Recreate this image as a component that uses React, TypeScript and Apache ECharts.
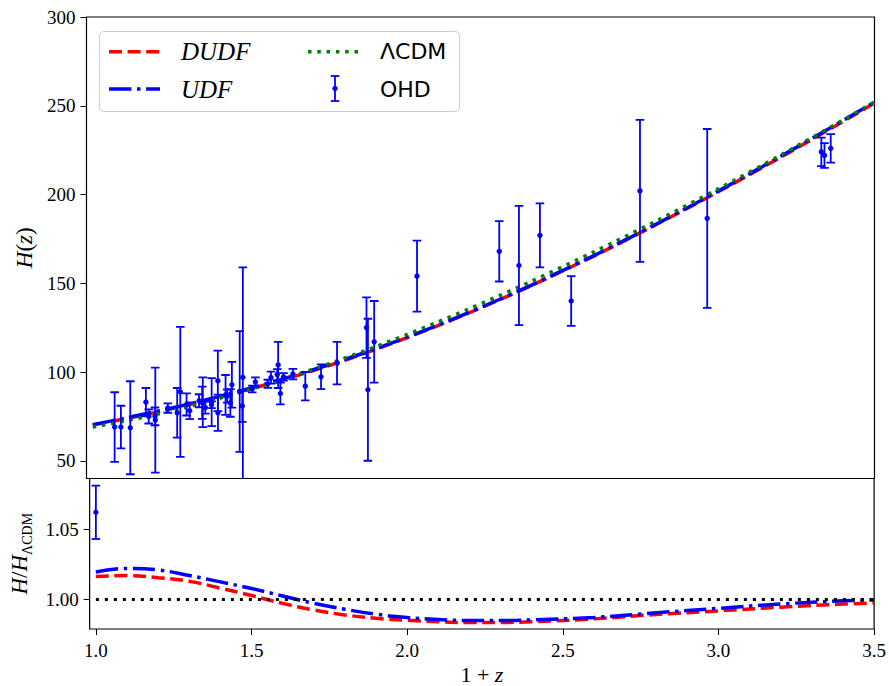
import React, { useEffect, useRef } from 'react';
import * as echarts from 'echarts';

// 1+z grid for model curves
const zGrid = [1.0, 1.1, 1.2, 1.3, 1.4, 1.5, 1.6, 1.7, 1.8, 1.9, 2.0, 2.1, 2.2, 2.3, 2.4, 2.6, 2.8, 3.0, 3.2, 3.4, 3.5];
const hLCDM = [69.0, 72.29, 76.05, 80.26, 84.92, 89.98, 95.44, 101.28, 107.46, 113.97, 120.8, 127.92, 135.32, 142.99, 150.9, 167.46, 184.9, 203.17, 222.21, 241.99, 252.14];
const hDUDF = [70.12, 73.52, 77.23, 81.3, 85.6, 90.23, 95.17, 100.52, 106.28, 112.44, 119.01, 125.9, 133.1, 140.64, 148.52, 165.15, 182.92, 201.52, 220.99, 241.19, 251.51];
const hUDF = [70.35, 73.88, 77.65, 81.62, 85.98, 90.68, 95.68, 101.0, 106.71, 112.77, 119.25, 126.1, 133.29, 140.85, 148.71, 165.32, 183.14, 201.89, 221.5, 241.75, 252.04];
const ratioDUDF = [1.0163, 1.017, 1.0155, 1.013, 1.008, 1.0028, 0.9972, 0.9925, 0.989, 0.9866, 0.9852, 0.9842, 0.9836, 0.9836, 0.9842, 0.9862, 0.9893, 0.9919, 0.9945, 0.9967, 0.9975];
const ratioUDF = [1.0195, 1.0221, 1.021, 1.017, 1.0125, 1.0078, 1.0025, 0.9972, 0.993, 0.9895, 0.9872, 0.9858, 0.985, 0.985, 0.9855, 0.9872, 0.9905, 0.9937, 0.9968, 0.999, 0.9996];
const refX = [1.0, 3.5];
const refY = [1.0, 1.0];

// Observational Hubble data (1+z, H, sigma)
const ohdZ1 = [1.07, 1.09, 1.12, 1.17, 1.179, 1.199, 1.2, 1.24, 1.27, 1.28, 1.3, 1.31, 1.34, 1.35, 1.3519, 1.36, 1.38, 1.3802, 1.4, 1.4004, 1.4247, 1.43, 1.44, 1.44497, 1.47, 1.4783, 1.48, 1.51, 1.52, 1.56, 1.57, 1.59, 1.5929, 1.6, 1.61, 1.64, 1.6797, 1.73, 1.7812, 1.8754, 1.88, 1.9, 2.037, 2.3, 2.363, 2.43, 2.53, 2.75, 2.965, 3.33, 3.34, 3.36];
const ohdH = [69, 69, 68.6, 83, 75, 75, 72.9, 79.69, 77, 88.8, 81.7, 78.18, 83.8, 82.7, 83, 79.94, 81.5, 83, 95, 77, 87.1, 86.45, 82.6, 92.8, 89, 80.9, 97, 90.4, 94.35, 93.34, 96.8, 98.48, 104, 87.9, 97.3, 98.82, 92, 97.3, 105, 125, 90, 117, 154, 168, 160, 177, 140, 202, 186.5, 224, 222, 226];
const ohdErr = [19.6, 12, 26.2, 8, 4, 5, 29.6, 2.65, 14, 36.6, 6.22, 4.74, 3.66, 9.1, 14, 3.38, 1.9, 13.5, 17, 10.2, 11.2, 3.68, 7.8, 12.9, 34, 9, 62, 1.9, 2.64, 2.3, 3.4, 3.18, 13, 6.1, 2.1, 2.98, 8, 7, 12, 17, 40, 23, 20, 17, 33.6, 18, 14, 40, 50.4, 8, 7, 8];
// H0 point relative to LCDM
const h0X = [1.0];
const h0Ratio = [1.062];
const h0RatioErr = [0.019];

const topYTicks = [50, 100, 150, 200, 250, 300];
const bottomYTicks = [1.0, 1.05];
const xTicks = [1.0, 1.5, 2.0, 2.5, 3.0, 3.5];

const SERIF = 'Liberation Serif';
const SANS = 'DejaVu Sans';
const BLUE = '#0000ff';
const RED = '#ff0000';
const GREEN = '#008000';

const pairs = (xs: number[], ys: number[]) => xs.map((x, i) => [x, ys[i]]);

const errorRender = (_params: any, api: any) => {
  const x = api.value(0);
  const y = api.value(1);
  const e = api.value(2);
  const pT = api.coord([x, y + e]);
  const pB = api.coord([x, y - e]);
  const pC = api.coord([x, y]);
  const cw = 4.3;
  const st = { stroke: BLUE, lineWidth: 1.8 };
  return {
    type: 'group',
    children: [
      { type: 'line', shape: { x1: pT[0], y1: pT[1], x2: pB[0], y2: pB[1] }, style: st },
      { type: 'line', shape: { x1: pT[0] - cw, y1: pT[1], x2: pT[0] + cw, y2: pT[1] }, style: st },
      { type: 'line', shape: { x1: pB[0] - cw, y1: pB[1], x2: pB[0] + cw, y2: pB[1] }, style: st },
      { type: 'circle', shape: { cx: pC[0], cy: pC[1], r: 2.7 }, style: { fill: BLUE } },
    ],
  };
};

export default function App() {
  const ref = useRef<HTMLDivElement>(null);
  useEffect(() => {
    document.body.style.margin = '0';
    const chart = echarts.init(ref.current as HTMLDivElement, null, { renderer: 'svg' });
    const tickLabel = { fontFamily: SERIF, fontSize: 19, color: '#000' };
    const option: any = {
      animation: false,
      backgroundColor: '#fff',
      grid: [
        { left: 86.5, right: 14.5, top: 17, height: 461.5, show: true, borderColor: '#000', borderWidth: 1.2, backgroundColor: 'transparent' },
        { left: 86.5, right: 14.5, top: 478.5, height: 153, show: true, borderColor: '#000', borderWidth: 1.2, backgroundColor: 'transparent' },
      ],
      xAxis: [
        {
          type: 'value', gridIndex: 0, min: 0.98, max: 3.5,
          axisLine: { show: false }, axisTick: { show: false }, axisLabel: { show: false }, splitLine: { show: false },
        },
        {
          type: 'value', gridIndex: 1, min: 0.98, max: 3.5,
          axisLine: { show: false },
          axisTick: { show: true, customValues: xTicks, length: 6, inside: false, lineStyle: { color: '#000', width: 1 } },
          axisLabel: { show: true, customValues: xTicks, margin: 12, formatter: (v: number) => v.toFixed(1), ...tickLabel },
          splitLine: { show: false },
          name: '{r|1 + }{i|z}', nameLocation: 'middle', nameGap: 34,
          nameTextStyle: {
            rich: {
              r: { fontFamily: SERIF, fontSize: 22, color: '#000' },
              i: { fontFamily: SERIF, fontSize: 22, fontStyle: 'italic', color: '#000' },
            },
          },
        },
      ],
      yAxis: [
        {
          type: 'value', gridIndex: 0, min: 40, max: 300,
          axisLine: { show: false },
          axisTick: { show: true, customValues: topYTicks, length: 6, inside: false, lineStyle: { color: '#000', width: 1 } },
          axisLabel: { show: true, customValues: topYTicks, margin: 11, formatter: (v: number) => String(v), ...tickLabel },
          splitLine: { show: false },
          name: '{i|H}{r|(}{i|z}{r|)}', nameLocation: 'middle', nameGap: 46, nameRotate: 90,
          nameTextStyle: {
            rich: {
              r: { fontFamily: SERIF, fontSize: 23, color: '#000' },
              i: { fontFamily: SERIF, fontSize: 23, fontStyle: 'italic', color: '#000' },
            },
          },
        },
        {
          type: 'value', gridIndex: 1, min: 0.979, max: 1.086,
          axisLine: { show: false },
          axisTick: { show: true, customValues: bottomYTicks, length: 6, inside: false, lineStyle: { color: '#000', width: 1 } },
          axisLabel: { show: true, customValues: bottomYTicks, margin: 11, formatter: (v: number) => v.toFixed(2), ...tickLabel },
          splitLine: { show: false },
          name: '{i|H}{r|/}{i|H}{s|ΛCDM}', nameLocation: 'middle', nameGap: 53, nameRotate: 90,
          nameTextStyle: {
            rich: {
              r: { fontFamily: SERIF, fontSize: 23, color: '#000', lineHeight: 30, verticalAlign: 'middle' },
              i: { fontFamily: SERIF, fontSize: 23, fontStyle: 'italic', color: '#000', lineHeight: 30, verticalAlign: 'middle' },
              s: { fontFamily: SERIF, fontSize: 14, color: '#000', lineHeight: 14, verticalAlign: 'bottom' },
            },
          },
        },
      ],
      series: [
        {
          name: 'DUDF', type: 'line', xAxisIndex: 0, yAxisIndex: 0, data: pairs(zGrid, hDUDF),
          showSymbol: false, smooth: 0.3, lineStyle: { color: RED, width: 3.5, type: [13, 5.6] }, z: 2,
        },
        {
          name: 'UDF', type: 'line', xAxisIndex: 0, yAxisIndex: 0, data: pairs(zGrid, hUDF),
          showSymbol: false, smooth: 0.3, lineStyle: { color: BLUE, width: 3.5, type: [22.4, 5.6, 3.5, 5.6] }, z: 3,
        },
        {
          name: 'ΛCDM', type: 'line', xAxisIndex: 0, yAxisIndex: 0, data: pairs(zGrid, hLCDM),
          showSymbol: false, smooth: 0.3, lineStyle: { color: GREEN, width: 3.5, type: [3.5, 5.8] }, z: 4,
        },
        {
          name: 'OHD', type: 'custom', xAxisIndex: 0, yAxisIndex: 0, clip: true,
          data: ohdZ1.map((x, i) => [x, ohdH[i], ohdErr[i]]),
          encode: { x: 0, y: 1 }, renderItem: errorRender, z: 5,
        },
        {
          name: 'DUDF ratio', type: 'line', xAxisIndex: 1, yAxisIndex: 1, data: pairs(zGrid, ratioDUDF),
          showSymbol: false, smooth: 0.4, lineStyle: { color: RED, width: 3.5, type: [13, 5.6] }, z: 2,
        },
        {
          name: 'UDF ratio', type: 'line', xAxisIndex: 1, yAxisIndex: 1, data: pairs(zGrid, ratioUDF),
          showSymbol: false, smooth: 0.4, lineStyle: { color: BLUE, width: 3.5, type: [22.4, 5.6, 3.5, 5.6] }, z: 3,
        },
        {
          name: 'ΛCDM ratio', type: 'line', xAxisIndex: 1, yAxisIndex: 1, data: pairs(refX, refY),
          showSymbol: false, lineStyle: { color: '#000', width: 3, type: [3, 6] }, z: 4,
        },
        {
          name: 'H0', type: 'custom', xAxisIndex: 1, yAxisIndex: 1, clip: true,
          data: h0X.map((x, i) => [x, h0Ratio[i], h0RatioErr[i]]),
          encode: { x: 0, y: 1 }, renderItem: errorRender, z: 5,
        },
      ],
      graphic: [
        {
          type: 'group', z: 100, children: [
            { type: 'rect', shape: { x: 99.5, y: 31.5, width: 360, height: 80, r: 4 }, style: { fill: 'rgba(255,255,255,0.85)', stroke: '#cccccc', lineWidth: 1 } },
            { type: 'line', shape: { x1: 109, y1: 51.7, x2: 160, y2: 51.7 }, style: { stroke: RED, lineWidth: 3.5, lineDash: [13, 5.6] } },
            { type: 'text', x: 181, y: 51.7, style: { text: 'DUDF', fontFamily: SERIF, fontStyle: 'italic', fontSize: 25, fill: '#000', verticalAlign: 'middle', align: 'left' } },
            { type: 'line', shape: { x1: 109, y1: 89, x2: 160, y2: 89 }, style: { stroke: BLUE, lineWidth: 3.5, lineDash: [22.4, 5.6, 3.5, 5.6] } },
            { type: 'text', x: 181, y: 89, style: { text: 'UDF', fontFamily: SERIF, fontStyle: 'italic', fontSize: 25, fill: '#000', verticalAlign: 'middle', align: 'left' } },
            { type: 'line', shape: { x1: 308, y1: 51.7, x2: 361, y2: 51.7 }, style: { stroke: GREEN, lineWidth: 3.5, lineDash: [3.5, 5.8] } },
            { type: 'text', x: 380, y: 51.7, style: { text: 'ΛCDM', fontFamily: SANS, fontSize: 22, fill: '#000', verticalAlign: 'middle', align: 'left' } },
            { type: 'line', shape: { x1: 335, y1: 76, x2: 335, y2: 101 }, style: { stroke: BLUE, lineWidth: 1.8 } },
            { type: 'line', shape: { x1: 330.7, y1: 76, x2: 339.3, y2: 76 }, style: { stroke: BLUE, lineWidth: 1.8 } },
            { type: 'line', shape: { x1: 330.7, y1: 101, x2: 339.3, y2: 101 }, style: { stroke: BLUE, lineWidth: 1.8 } },
            { type: 'circle', shape: { cx: 335, cy: 88.5, r: 2.7 }, style: { fill: BLUE } },
            { type: 'text', x: 380, y: 89, style: { text: 'OHD', fontFamily: SANS, fontSize: 22, fill: '#000', verticalAlign: 'middle', align: 'left' } },
          ],
        },
      ],
    };
    chart.setOption(option);
    return () => chart.dispose();
  }, []);
  return <div ref={ref} style={{ width: 889, height: 686 }} />;
}
